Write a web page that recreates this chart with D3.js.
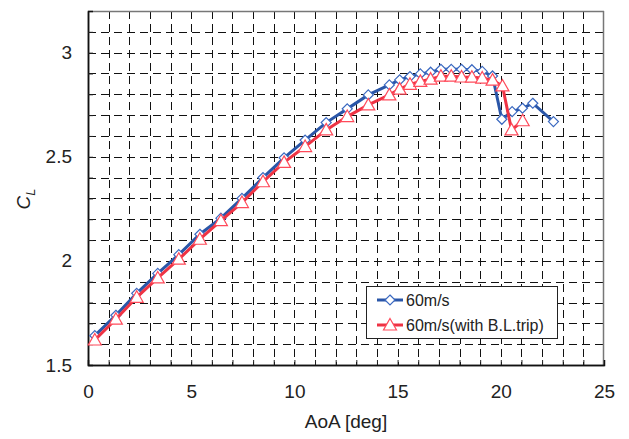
<!DOCTYPE html>
<html>
<head>
<meta charset="utf-8">
<script src="https://cdn.jsdelivr.net/npm/d3@7"></script>
<style>
  body { margin: 0; background: #fff; }
  text { font-family: "Liberation Sans", Arial, sans-serif; fill: #222; }
</style>
</head>
<body>
<script>
// Data
var aoa = [0.33, 1.35, 2.36, 3.38, 4.4, 5.42, 6.44, 7.46, 8.48, 9.5, 10.52, 11.54, 12.56, 13.58, 14.6,
           15.1, 15.6, 16.1, 16.6, 17.1, 17.6, 18.1, 18.6, 19.1, 19.6, 20.05, 20.55, 21.05, 21.55, 22.55];
var cl60 = [1.641, 1.739, 1.844, 1.94, 2.03, 2.128, 2.205, 2.30, 2.40, 2.495, 2.58, 2.664, 2.73, 2.797, 2.845,
            2.869, 2.885, 2.898, 2.906, 2.92, 2.92, 2.92, 2.918, 2.91, 2.888, 2.68, 2.717, 2.733, 2.757, 2.669];
var aoaTrip = [0.33, 1.35, 2.36, 3.38, 4.4, 5.42, 6.44, 7.46, 8.48, 9.5, 10.52, 11.54, 12.56, 13.58, 14.6,
               15.1, 15.6, 16.1, 16.6, 17.1, 17.6, 18.1, 18.6, 19.1, 19.6, 20.08, 20.52, 21.06];
var clTrip = [1.62, 1.72, 1.825, 1.918, 2.008, 2.104, 2.193, 2.28, 2.38, 2.473, 2.549, 2.629, 2.693, 2.749, 2.797,
              2.825, 2.848, 2.862, 2.873, 2.887, 2.887, 2.883, 2.882, 2.878, 2.868, 2.84, 2.629, 2.673];
var xTicks = [0, 5, 10, 15, 20, 25];
var yTicks = [1.5, 2, 2.5, 3];
var seriesNames = ["60m/s", "60m/s(with B.L.trip)"];

var W = 629, H = 439;
var margin = { top: 11, right: 25, bottom: 74, left: 88 };
var width = W - margin.left - margin.right;   // 516
var height = H - margin.top - margin.bottom;  // 354

var svg = d3.select("body").append("svg")
    .attr("width", W)
    .attr("height", H);

var g = svg.append("g")
    .attr("transform", "translate(" + margin.left + "," + margin.top + ")");

// SCALES
var x = d3.scaleLinear().domain([0, 25]).range([0, width]);
var y = d3.scaleLinear().domain([1.5, 3.2]).range([height, 0]);

// grid
var gridX = d3.range(1, 25);
var gridY = d3.range(16, 32).map(function (d) { return d / 10; });

g.append("g").attr("class", "grid")
    .selectAll("line").data(gridX).enter().append("line")
    .attr("x1", function (d) { return Math.round(x(d)) + 0.5; })
    .attr("x2", function (d) { return Math.round(x(d)) + 0.5; })
    .attr("y1", 0).attr("y2", height)
    .attr("stroke", "#111").attr("stroke-width", 1)
    .attr("stroke-dasharray", "8,5");

g.append("g").attr("class", "grid")
    .selectAll("line").data(gridY).enter().append("line")
    .attr("y1", function (d) { return Math.round(y(d)) + 0.5; })
    .attr("y2", function (d) { return Math.round(y(d)) + 0.5; })
    .attr("x1", 0).attr("x2", width)
    .attr("stroke", "#111").attr("stroke-width", 1)
    .attr("stroke-dasharray", "8,5");

// frame top/right
g.append("line").attr("x1", 0).attr("x2", width).attr("y1", 0.5).attr("y2", 0.5)
    .attr("stroke", "#777").attr("stroke-width", 1.5);
g.append("line").attr("x1", width - 0.5).attr("x2", width - 0.5).attr("y1", 0).attr("y2", height)
    .attr("stroke", "#777").attr("stroke-width", 1.5);

// AXES
var leftAxis = d3.axisLeft(y).tickValues(yTicks).tickSize(0).tickPadding(16)
    .tickFormat(d3.format("~g"));
g.append("g").attr("class", "left axis").call(leftAxis);

var leftMinor = d3.axisRight(y).tickValues(gridY).tickSize(5).tickFormat("");
g.append("g").attr("class", "left minor").call(leftMinor);

var bottomAxis = d3.axisBottom(x).tickValues(xTicks).tickSize(0).tickPadding(20);
g.append("g").attr("class", "bottom axis")
    .attr("transform", "translate(0," + height + ")")
    .call(bottomAxis);

var bottomMinor = d3.axisTop(x).tickValues(gridX).tickSize(5).tickFormat("");
g.append("g").attr("class", "bottom minor")
    .attr("transform", "translate(0," + height + ")")
    .call(bottomMinor);

g.selectAll(".axis text").attr("font-size", "19px").style("fill", "#222");
g.selectAll(".axis path, .minor path").attr("stroke", "#111").attr("stroke-width", 1.5);
g.selectAll(".minor line").attr("stroke", "#222");

// LINES
var line = d3.line()
    .x(function (d) { return x(d[0]); })
    .y(function (d) { return y(d[1]); });

var blue = aoa.map(function (d, i) { return [d, cl60[i]]; });
var red = aoaTrip.map(function (d, i) { return [d, clTrip[i]]; });

var diamond = "M0,-5L5,0L0,5L-5,0Z";
var triangle = "M0,-6.5L6.5,5L-6.5,5Z";

g.append("path").datum(blue)
    .attr("d", line).attr("fill", "none")
    .attr("stroke", "#2a56a8").attr("stroke-width", 3);
g.selectAll(".dia").data(blue).enter().append("path")
    .attr("class", "dia")
    .attr("d", diamond)
    .attr("transform", function (d) { return "translate(" + x(d[0]) + "," + y(d[1]) + ")"; })
    .attr("fill", "#fff").attr("stroke", "#3a68c0").attr("stroke-width", 1.2);

g.append("path").datum(red)
    .attr("d", line).attr("fill", "none")
    .attr("stroke", "#ee3344").attr("stroke-width", 3);
g.selectAll(".tri").data(red).enter().append("path")
    .attr("class", "tri")
    .attr("d", triangle)
    .attr("transform", function (d) { return "translate(" + x(d[0]) + "," + y(d[1]) + ")"; })
    .attr("fill", "#fff").attr("stroke", "#ff4a5a").attr("stroke-width", 1.2);

// LEGEND
var lg = svg.append("g").attr("transform", "translate(366,286)");
lg.append("rect").attr("x", 0.5).attr("y", 0.5).attr("width", 191).attr("height", 52)
    .attr("fill", "#fff").attr("stroke", "#222").attr("stroke-width", 1);

var lgColors = [["#2a56a8", "#3a68c0", diamond], ["#ee3344", "#ff4a5a", triangle]];
seriesNames.forEach(function (name, i) {
    var yy = 14 + i * 25;
    lg.append("line").attr("x1", 11).attr("x2", 37).attr("y1", yy).attr("y2", yy)
        .attr("stroke", lgColors[i][0]).attr("stroke-width", 3);
    lg.append("path").attr("d", lgColors[i][2])
        .attr("transform", "translate(24," + yy + ")")
        .attr("fill", "#fff").attr("stroke", lgColors[i][1]).attr("stroke-width", 1.2);
    lg.append("text").attr("x", 40).attr("y", yy + 6)
        .attr("font-size", "16px")
        .text(name);
});

// TITLE LABELS
svg.append("text")
    .attr("x", margin.left + width / 2)
    .attr("y", 428)
    .attr("font-size", "19px")
    .attr("text-anchor", "middle")
    .text("AoA [deg]");

var yl = svg.append("text")
    .attr("transform", "translate(30," + (margin.top + 188) + ") rotate(-90)")
    .attr("text-anchor", "middle")
    .attr("font-size", "19px");
yl.append("tspan").attr("font-style", "italic").text("C");
yl.append("tspan").attr("font-style", "italic").attr("font-size", "13px")
    .attr("dy", 5).text("L");
</script>
</body>
</html>
